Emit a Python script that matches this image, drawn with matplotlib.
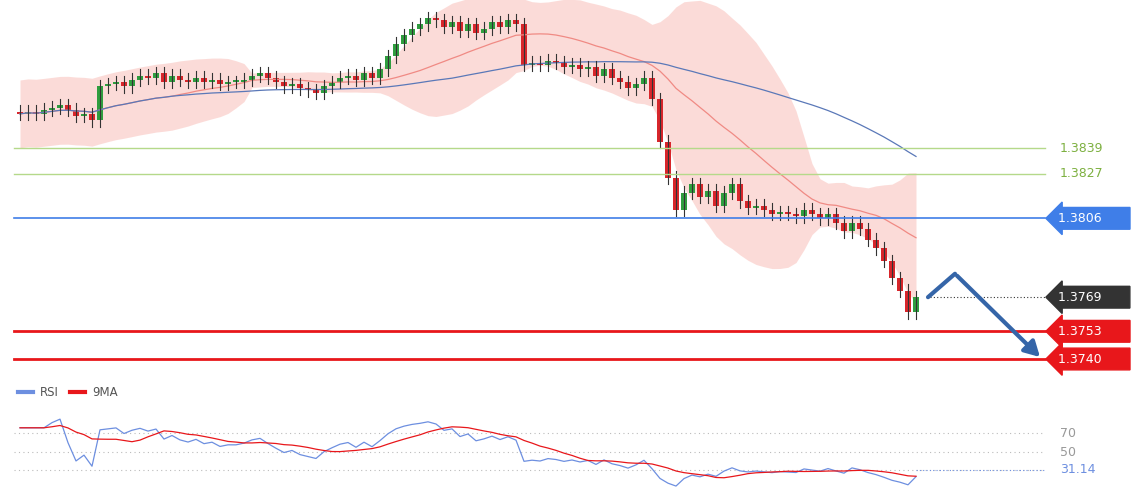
import numpy as np
import pandas as pd
import matplotlib.pyplot as plt

# closing prices, one per candle
closes = [
    1.3855, 1.3856, 1.3855, 1.3857, 1.3858, 1.3859, 1.3857, 1.3854, 1.3855, 1.3852,
    1.3868,
    1.3869, 1.3870, 1.3868, 1.3871, 1.3873, 1.3872, 1.3874, 1.3870, 1.3873, 1.3871, 1.3870, 1.3872,
    1.3870, 1.3871, 1.3869, 1.3870, 1.3870, 1.3871, 1.3873, 1.3874, 1.3872, 1.3870, 1.3868, 1.3869, 1.3867,
    1.3866, 1.3865, 1.3868, 1.3870, 1.3872, 1.3873, 1.3871, 1.3874, 1.3872, 1.3876,
    1.3882, 1.3888, 1.3892, 1.3895, 1.3897, 1.3900, 1.3899,
    1.3896, 1.3898, 1.3894, 1.3897, 1.3893, 1.3895, 1.3898, 1.3896, 1.3899, 1.3897,
    1.3878,
    1.3879, 1.3878, 1.3880, 1.3879, 1.3877, 1.3878, 1.3876, 1.3877, 1.3873, 1.3876,
    1.3872, 1.3870, 1.3867, 1.3869, 1.3872, 1.3862,
    1.3842, 1.3825, 1.3810, 1.3818, 1.3822, 1.3816, 1.3819, 1.3812, 1.3818, 1.3822,
    1.3814, 1.3811, 1.3812, 1.3810, 1.3808, 1.3809, 1.3808, 1.3807, 1.3810, 1.3808,
    1.3806, 1.3808, 1.3804, 1.3800, 1.3804, 1.3801, 1.3796, 1.3792, 1.3786, 1.3778,
    1.3772, 1.3762, 1.3769,
]
first_open = 1.3856
green_levels = [1.3839, 1.3827]
pivot = 1.3806
last_label = "1.3769"
supports = [1.3753, 1.3740]
rsi_levels = [70, 50]
rsi_last = 31.14

UP, DOWN = "#2f9e3f", "#d8262b"
PX = 8.0  # pixels per candle


def px_to_x(px):
    return (px - 20) / PX


def main():
    c = pd.Series(closes)
    o = c.shift(1).fillna(first_open)
    hi = np.maximum(o, c) + 0.0003
    lo = np.minimum(o, c) - 0.0003
    idx = np.arange(len(c))

    fig = plt.figure(figsize=(11.4, 5.0), dpi=100)
    ax = fig.add_axes([0, 0.24, 1, 0.76])
    rx = fig.add_axes([0, 0, 1, 0.24])
    xlim = (px_to_x(0), px_to_x(1140))
    for a in (ax, rx):
        a.set_xlim(*xlim)
        a.axis("off")
    ax.set_ylim(1.373015, 1.390844)

    # bollinger + slow MA (warm-up uses the first full window)
    mid = c.rolling(20, min_periods=1).mean()
    sd = c.rolling(20).std().bfill()
    ax.fill_between(idx, mid - 2 * sd, mid + 2 * sd, color="#fbd3cf", alpha=0.8, lw=0)
    ax.plot(idx, mid, color="#f08a84", lw=0.9)
    ax.plot(idx, c.rolling(55, min_periods=1).mean(), color="#5a78b8", lw=0.9)

    for i in idx:
        col = UP if c[i] >= o[i] else DOWN
        ax.plot([i, i], [lo[i], hi[i]], color="#333333", lw=0.8)
        b0, b1 = min(o[i], c[i]), max(o[i], c[i])
        ax.bar(i, max(b1 - b0, 0.00008), bottom=b0, width=0.72, color=col, lw=0)

    x0, x1 = px_to_x(14), px_to_x(1045)
    for lv in green_levels:
        ax.plot([x0, x1], [lv, lv], color="#b5d98a", lw=1)
        ax.text(px_to_x(1060), lv, f"{lv:.4f}", color="#7db040", va="center", fontsize=9)
    ax.plot([x0, x1], [pivot, pivot], color="#3f7ee8", lw=1.2)
    for lv in supports:
        ax.plot([x0, x1], [lv, lv], color="#e8171b", lw=2)
    ax.plot([px_to_x(930), x1], [closes[-1]] * 2, color="#333333", lw=0.8, ls=(0, (1, 2)))

    def box(y, txt, col):
        ax.text(px_to_x(1058), y, txt, color="white", va="center", fontsize=9,
                bbox=dict(boxstyle="larrow,pad=0.35", fc=col, ec=col))
    box(pivot, f"{pivot:.4f}" + " " * 6, "#3f7ee8")
    box(closes[-1], last_label + " " * 6, "#333333")
    for lv in supports:
        box(lv, f"{lv:.4f}" + " " * 6, "#e8171b")

    # forecast arrow
    ax.plot([px_to_x(928), px_to_x(955)], [closes[-1], 1.3780], color="#3565a8", lw=3,
            solid_capstyle="round")
    ax.annotate("", xy=(px_to_x(1042), supports[1]), xytext=(px_to_x(955), 1.3780),
                arrowprops=dict(arrowstyle="-|>,head_width=0.5,head_length=0.9",
                                color="#3565a8", lw=3))

    # RSI
    d = c.diff().fillna(0)
    up = d.clip(lower=0).ewm(span=27, adjust=True).mean()
    dn = (-d.clip(upper=0)).ewm(span=27, adjust=True).mean()
    rsi = (100 - 100 / (1 + up / dn.replace(0, 1e-9))).clip(0, 100)
    rsi[:3] = rsi[3]
    rx.set_ylim(-0.5, 125.8)
    for lv in rsi_levels + [rsi_last]:
        rx.plot([px_to_x(14), px_to_x(1045)], [lv, lv], color="#bbbbbb", lw=0.8, ls=(0, (1, 3)))
    rx.plot([len(c) - 1, px_to_x(1045)], [rsi_last] * 2, color="#6d8fe0", lw=0.8, ls=(0, (1, 2)))
    for lv in rsi_levels:
        rx.text(px_to_x(1060), lv, str(lv), color="#999999", va="center", fontsize=9)
    rx.text(px_to_x(1060), rsi_last, f"{rsi_last:.2f}", color="#6d8fe0", va="center", fontsize=9)
    rx.plot(idx, rsi, color="#6d8fe0", lw=0.9)
    rx.plot(idx, rsi.rolling(9, min_periods=1).mean(), color="#e8171b", lw=0.9)
    ly = 70 + (433 - 392) / 0.95
    rx.plot([px_to_x(18), px_to_x(33)], [ly, ly], color="#6d8fe0", lw=3)
    rx.text(px_to_x(40), ly, "RSI", color="#555555", va="center", fontsize=8.5)
    rx.plot([px_to_x(70), px_to_x(85)], [ly, ly], color="#e8171b", lw=3)
    rx.text(px_to_x(92), ly, "9MA", color="#555555", va="center", fontsize=8.5)

    fig.savefig("out.png", dpi=100, facecolor="white")


if __name__ == "__main__":
    main()
